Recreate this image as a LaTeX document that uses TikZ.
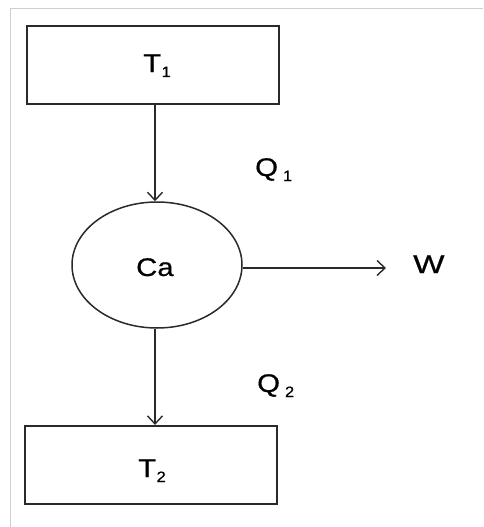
\documentclass[tikz,border=0pt]{standalone}
\usepackage{fontspec}
\setmainfont{Liberation Sans}[FakeBold=0.6]
\usetikzlibrary{arrows.meta,shapes.geometric}
\definecolor{ink}{HTML}{2A2A2A}
\definecolor{frame}{HTML}{CFCFCF}
% wide lettering and a lowered index set a little apart from its letter
\newcommand{\widetxt}[2][1.15]{\scalebox{#1}[1]{#2}}
\newcommand{\lowidx}[2][1pt]{\hspace{#1}\raisebox{-5pt}{\fontsize{15}{15}\selectfont\scalebox{1.1}[1]{#2}}}
\tikzset{
  reservoir/.style={draw=ink, line width=2.2pt, minimum width=252pt, minimum height=78pt, inner sep=0pt},
  engine/.style={draw=ink, line width=1.5pt, ellipse, minimum width=170pt, minimum height=126pt, inner sep=0pt},
  flow/.style={draw=ink, line width=1.4pt, -{Straight Barb[length=8pt,width=15pt,line width=1.4pt]}},
  lbl/.style={font=\fontsize{25.5}{28}\selectfont, text=black, inner sep=0pt, anchor=base west},
}
\begin{document}
\begin{tikzpicture}[x=1pt,y=-1pt]
  \useasboundingbox (0,0) rectangle (483,527);
  % thin page frame along the top and left
  \draw[frame, line width=1pt] (10,527) -- (10,9) -- (483,9);
  % hot and cold reservoirs
  \node[reservoir] (hot)  at (153,65)  {};
  \node[reservoir] (cold) at (151,465) {};
  \node[lbl] (thot)  at (143,72)  {\widetxt{T}\lowidx[0.5pt]{1}};
  \node[lbl] (tcold) at (138,477) {\widetxt{T}\lowidx[0.5pt]{2}};
  % the engine
  \node[engine] (ca) at (157,265) {};
  \node[lbl] (catxt) at (136,276) {\widetxt{Ca}};
  % heat and work flows
  \draw[flow] (hot.south -| 155,0) -- (ca.north -| 155,0);
  \draw[flow] (ca.south -| 155,0) -- (cold.north -| 155,0);
  \coordinate (wend) at (386,268);
  \draw[flow] (ca.east |- wend) -- (wend);
  \node[lbl] (q1) at (255,176) {\widetxt{Q}\lowidx[5pt]{1}};
  \node[lbl] (q2) at (257,392) {\widetxt{Q}\lowidx[5pt]{2}};
  \node[lbl] (w)  at (413,273) {\widetxt[1.3]{W}};
\end{tikzpicture}
\end{document}
